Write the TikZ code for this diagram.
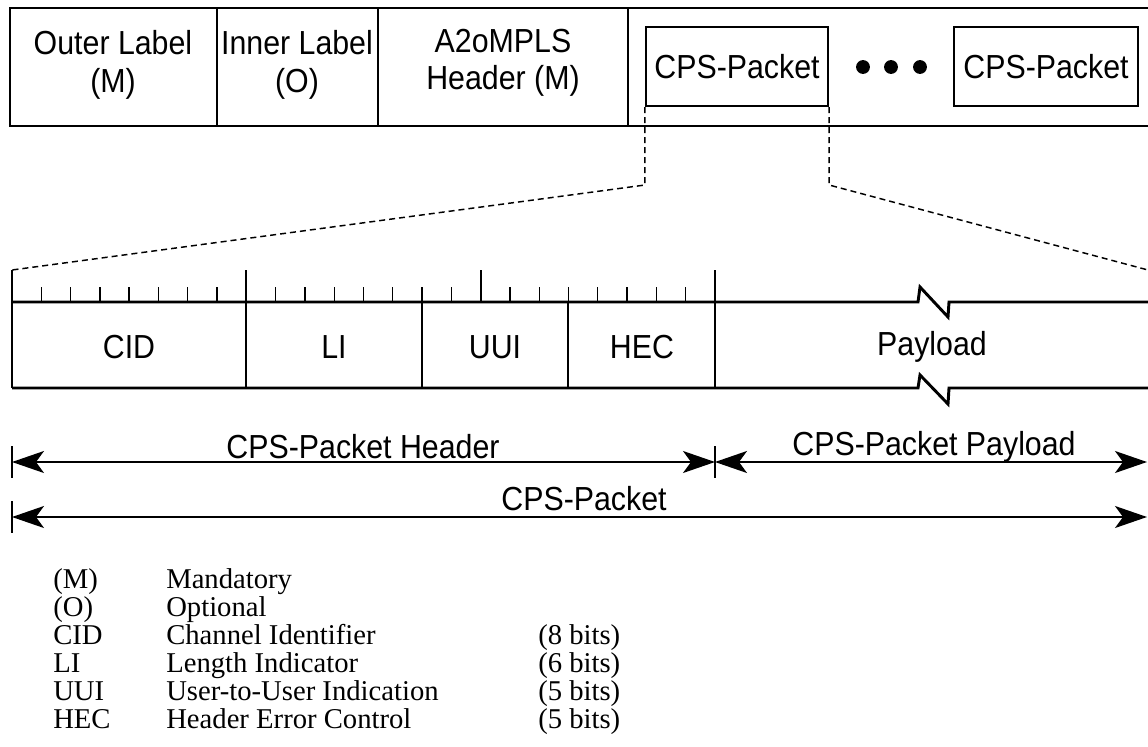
\documentclass[tikz,border=0pt]{standalone}
\usepackage{fontspec}
\setmainfont{Liberation Serif}
\newfontfamily\arialf[FakeStretch=0.91]{Liberation Sans}
\usetikzlibrary{arrows.meta}
\tikzset{
  lbl/.style={font=\arialf\fontsize{25}{28}\selectfont, align=center, inner sep=0pt},
  legtxt/.style={font=\fontsize{21.5}{25}\selectfont, anchor=base west, inner sep=0pt},
  heavy/.style={line width=2.2pt},
  medium/.style={line width=1.6pt},
  light/.style={line width=1pt},
  pbox/.style={draw, line width=1.8pt, inner sep=0pt, minimum width=136.5pt, minimum height=59pt,
    font=\arialf\fontsize{25}{28}\selectfont},
  zoomline/.style={line width=1.1pt, dash pattern=on 4.5pt off 3pt},
  dimline/.style={line width=1.1pt, {Stealth[length=24pt,width=16.5pt,inset=6pt]}-{Stealth[length=24pt,width=16.5pt,inset=6pt]}},
  endbar/.style={line width=0.9pt}
}
\begin{document}
\begin{tikzpicture}[x=0.75pt,y=-0.75pt]
\useasboundingbox (0,0) rectangle (1148,746);

% ---------- top frame ----------
\draw[heavy] (1148,8) -- (10,8) -- (10,126) -- (1148,126);
\draw[medium] (217,8) -- (217,126);
\draw[light] (378,8) -- (378,126);
\draw[heavy] (628,8) -- (628,126);

\node[lbl] (outer) at (113,65) {Outer Label\\(M)};
\node[lbl] (inner) at (297,65) {Inner Label\\(O)};
\node[lbl] (a2o)   at (503,63) {A2oMPLS\\Header (M)};

\node[pbox] (p1) at (737,66.5) {CPS-Packet};
\node[pbox, minimum width=138pt] (p2) at (1046,66.5) {CPS-Packet};

\fill (863,67) circle[radius=5.2pt];
\fill (891,67) circle[radius=5.2pt];
\fill (920,67) circle[radius=5.2pt];

% ---------- zoom lines ----------
\coordinate (zl) at (12,270);
\coordinate (zr) at (1148,270);
\draw[zoomline] (p1.south west) -- ++(0,78) -- (zl);
\draw[zoomline] (p1.south east) -- ++(0,78) -- (zr);

% ---------- ruler ----------
\foreach \i in {1,...,23}{
  \pgfmathsetmacro\xx{12+\i*29.29}
  \draw[light] (\xx,287) -- (\xx,302);
}
\foreach \i in {0,8,16,24}{
  \pgfmathsetmacro\xx{12+\i*29.29}
  \draw[medium] (\xx,270) -- (\xx,302);
}

% ---------- field rows ----------
\draw[heavy, line join=miter] (12,302) -- (918,302) -- (920,287) -- (948,317) -- (949,302) -- (1148,302);
\draw[heavy, line join=miter] (12,388) -- (918,388) -- (920,375) -- (948,404) -- (949,388) -- (1148,388);
\draw[heavy] (12,270) -- (12,388);
\draw[medium] (246.3,302) -- (246.3,388);
\draw[light] (422,302) -- (422,388);
\draw[medium] (568,302) -- (568,388);
\draw[medium] (715,302) -- (715,388);

\node[lbl] (cid) at (129,347) {CID};
\node[lbl] (li)  at (334,347) {LI};
\node[lbl] (uui) at (495,347) {UUI};
\node[lbl] (hec) at (642,347) {HEC};
\node[lbl] (pay) at (932,347) {Payload};

% ---------- dimension arrows ----------
\coordinate (h0) at (12,462);
\coordinate (h1) at (715,462);
\coordinate (h2) at (1147,462);
\coordinate (c0) at (12,517);
\coordinate (c1) at (1147,517);
\draw[endbar] (12,446) -- (12,478);
\draw[endbar] (715,446) -- (715,478);
\draw[endbar] (12,501) -- (12,533);
\draw[dimline] (h0) -- (h1);
\draw[dimline] (h1) -- (h2);
\draw[dimline] (c0) -- (c1);
\node[lbl] (hdr) at (363,447) {CPS-Packet Header};
\node[lbl] (pld) at (934,447) {CPS-Packet Payload};
\node[lbl] (pkt) at (584,499) {CPS-Packet};

% ---------- legend ----------
\foreach \a/\b/\c [count=\k from 0] in {(M)/Mandatory/, (O)/Optional/, CID/Channel Identifier/(8 bits), LI/Length Indicator/(6 bits), UUI/User-to-User Indication/(5 bits), HEC/Header Error Control/(5 bits)}{
  \node[legtxt] (la\k) at (53,{588+28*\k}) {\a};
  \node[legtxt] (lb\k) at (166,{588+28*\k}) {\b};
  \node[legtxt] (lc\k) at (538,{588+28*\k}) {\c};
}
\end{tikzpicture}
\end{document}
